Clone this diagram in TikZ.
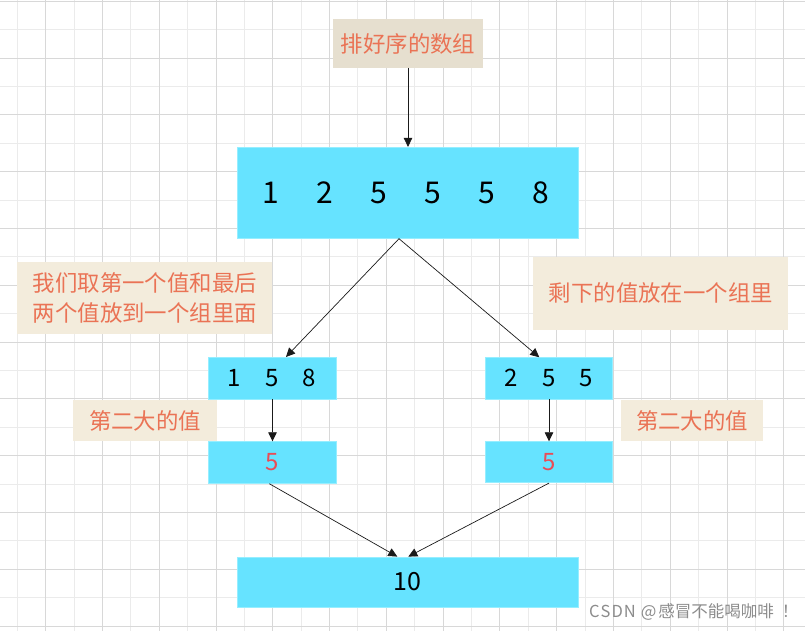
\documentclass[tikz,border=0pt]{standalone}
\usepackage{fontspec}
\setmainfont{Noto Sans CJK SC}
\usetikzlibrary{arrows.meta,calc}
\definecolor{boxc}{RGB}{102,227,255}
\definecolor{boxe}{RGB}{150,238,255}
\definecolor{notec}{RGB}{243,236,220}
\definecolor{notetop}{RGB}{230,223,207}
\definecolor{salmon}{RGB}{234,115,85}
\definecolor{redv}{RGB}{234,76,86}
\definecolor{gmaj}{RGB}{216,216,216}
\definecolor{gmin}{RGB}{235,235,235}
\definecolor{arrc}{RGB}{26,26,26}
\definecolor{wmc}{RGB}{140,140,140}
\newcommand{\digitcell}[2]{\makebox[#1]{#2}}
\begin{document}
\begin{tikzpicture}[x=1pt,y=-1pt,
  cbox/.style={fill=boxc,draw=boxe,line width=0.8pt,inner sep=0pt},
  note/.style={fill=notec,text=salmon,inner sep=0pt,font=\fontsize{22.4}{30}\selectfont},
  arr/.style={draw=arrc,line width=0.7pt,-{Triangle[length=9pt,width=8.5pt]}},
  gridmin/.style={draw=gmin,line width=1pt},
  gridmaj/.style={draw=gmaj,line width=1pt}
]
\useasboundingbox (0,0) rectangle (805,631);
\fill[white] (0,0) rectangle (805,631);
% grid
\foreach \k in {0,2,...,26} \draw[gridmin] ({17.3+28.39*\k},0) -- ({17.3+28.39*\k},631);
\foreach \k in {1,3,...,21} \draw[gridmin] (0,{1.3+28.4*\k}) -- (805,{1.3+28.4*\k});
\foreach \k in {1,3,...,27} \draw[gridmaj] ({17.3+28.39*\k},0) -- ({17.3+28.39*\k},631);
\foreach \k in {0,2,...,22} \draw[gridmaj] (0,{1.3+28.4*\k}) -- (805,{1.3+28.4*\k});

% nodes
\node[note,fill=notetop,minimum width=149.4pt,minimum height=48.4pt] (top) at (408,43.5) {排好序的数组};
\node[cbox,minimum width=341pt,minimum height=91pt,font=\fontsize{30}{36}\selectfont] (big) at (407.8,192.8)
  {\digitcell{54pt}{1}\digitcell{54pt}{2}\digitcell{54pt}{5}\digitcell{54pt}{5}\digitcell{54pt}{5}\digitcell{54pt}{8}\hspace*{3pt}};
\node[note,minimum width=255pt,minimum height=72.3pt,align=center] (ln) at (144.8,297.8) {我们取第一个值和最后\\两个值放到一个组里面};
\node[note,minimum width=255pt,minimum height=73.3pt] (rn) at (660.8,293.3) {剩下的值放在一个组里};
\node[cbox,minimum width=128.4pt,minimum height=41.7pt,font=\fontsize{24}{28}\selectfont] (s1) at (272.5,378.2)
  {\digitcell{37.5pt}{1}\digitcell{37.5pt}{5}\digitcell{37.5pt}{8}\hspace*{1pt}};
\node[cbox,minimum width=126.6pt,minimum height=41.3pt,font=\fontsize{24}{28}\selectfont] (s2) at (549,378.3)
  {\digitcell{37.5pt}{2}\digitcell{37.5pt}{5}\digitcell{37.5pt}{5}};
\node[note,minimum width=143.4pt,minimum height=41pt] (q1) at (145,420.5) {第二大的值};
\node[note,minimum width=142.6pt,minimum height=41pt] (q2) at (692,420.5) {第二大的值};
\node[cbox,minimum width=128.4pt,minimum height=41.6pt,font=\fontsize{24}{28}\selectfont,text=redv] (r1) at (272.5,462.5) {5};
\node[cbox,minimum width=126.6pt,minimum height=41pt,font=\fontsize{24}{28}\selectfont,text=redv] (r2) at (549,462.2) {5};
\node[cbox,minimum width=341pt,minimum height=50pt,font=\fontsize{25}{30}\selectfont] (bot) at (407.8,582) {10};
\node[anchor=west,text=wmc,inner sep=0pt,font=\fontsize{16.5}{19}\selectfont] (wm) at (589,612)
  {C\hspace{1pt}S\hspace{1pt}D\hspace{1pt}N\hspace{5pt}@\hspace{2pt}感冒不能喝咖啡\hspace{8pt}！};

% connectors
\draw[arr] (top.south) -- (top.south |- big.north);
\draw[arr] ($(big.south)+(-8.8,0)$) -- ($(s1.north)+(13.5,0)$);
\draw[arr] ($(big.south)+(-8.8,0)$) -- ($(s2.north)+(-9.7,0)$);
\draw[arr] (s1.south) -- (r1.north);
\draw[arr] (s2.south) -- (r2.north);
\draw[arr] ($(r1.south)+(-3.2,0)$) -- ($(bot.north)+(-10.5,0)$);
\draw[arr] (r2.south) -- ($(bot.north)+(0.5,0)$);
\end{tikzpicture}
\end{document}
